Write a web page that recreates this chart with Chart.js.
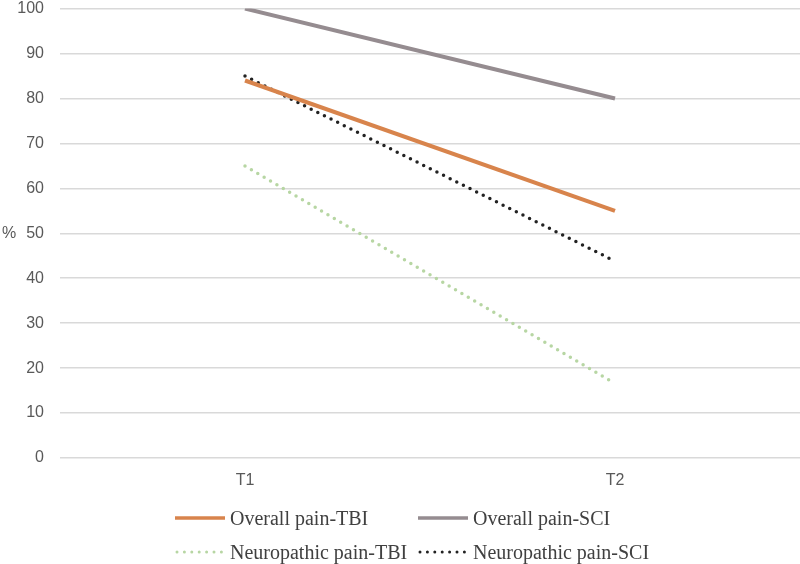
<!DOCTYPE html>
<html>
<head>
<meta charset="utf-8">
<script src="https://cdn.jsdelivr.net/npm/chart.js@4/dist/chart.umd.min.js"></script>
<style>
  html, body { margin: 0; padding: 0; background: #fff; overflow: hidden; }
  #wrap { position: relative; width: 800px; height: 564px; overflow: hidden; }
  canvas { position: absolute; left: 0; top: -17px; }
  .leg { position: absolute; display: flex; align-items: center; font-family: "Liberation Serif", "Times New Roman", serif; font-size: 20px; color: #404040; white-space: nowrap; line-height: 20px; }
  .leg svg { margin-right: 5px; }
</style>
</head>
<body>
<div id="wrap">
  <canvas id="c" width="800" height="581"></canvas>
</div>
<script>
const categories = ["T1", "T2"];
const overallTBI = [84, 55];
const overallSCI = [100, 80];
const neuroTBI = [65, 16.6];
const neuroSCI = [85, 43.8];
const seriesNames = ["Overall pain-TBI", "Overall pain-SCI", "Neuropathic pain-TBI", "Neuropathic pain-SCI"];
const yTicks = { min: 0, max: 100, step: 10 };

const colors = ["#D8844C", "#958C90", "#B7D6A3", "#222222"];
const dotted = [false, false, true, true];

const pctPlugin = {
  id: 'pct',
  afterDraw(chart) {
    const ctx = chart.ctx;
    const a = chart.chartArea;
    ctx.save();
    ctx.font = '16px "Liberation Sans", Arial, sans-serif';
    ctx.fillStyle = '#595959';
    ctx.textAlign = 'left';
    ctx.textBaseline = 'middle';
    ctx.fillText('%', 2, (a.top + a.bottom) / 2);
    ctx.restore();
  }
};

const allData = [overallTBI, overallSCI, neuroTBI, neuroSCI];
const datasets = allData.map((d, i) => ({
  label: seriesNames[i],
  data: d,
  borderColor: colors[i],
  backgroundColor: colors[i],
  borderWidth: dotted[i] ? 3.5 : 4,
  borderDash: dotted[i] ? [0, 7.4] : [],
  borderCapStyle: dotted[i] ? 'round' : 'butt',
  pointRadius: 0,
  fill: false,
  tension: 0
}));

const chart = new Chart(document.getElementById('c'), {
  type: 'line',
  data: { labels: categories, datasets },
  plugins: [pctPlugin],
  options: {
    responsive: false,
    animation: false,
    layout: { padding: { top: 0, right: 0, left: 0, bottom: 0 } },
    plugins: { legend: { display: false }, tooltip: { enabled: false } },
    scales: {
      x: {
        offset: true,
        grid: { display: false, drawTicks: false },
        border: { display: false },
        ticks: { color: '#595959', font: { family: '"Liberation Sans", Arial, sans-serif', size: 16 }, padding: 13 },
        afterFit(s) { s.height = 106; }
      },
      y: {
        min: yTicks.min, max: yTicks.max,
        grid: { color: '#d9d9d9', lineWidth: 1.5, drawTicks: false },
        border: { display: false },
        ticks: { stepSize: yTicks.step, color: '#595959', font: { family: '"Liberation Sans", Arial, sans-serif', size: 16 }, padding: 16 },
        afterFit(s) { s.width = 60; }
      }
    }
  }
});

// HTML legend
const legPos = [[175, 518], [418, 518], [175, 552], [418, 552]];
const wrap = document.getElementById('wrap');
seriesNames.forEach((name, i) => {
  const div = document.createElement('div');
  div.className = 'leg';
  div.style.left = legPos[i][0] + 'px';
  div.style.top = (legPos[i][1] - 10) + 'px';
  const w = 50;
  const dash = dotted[i] ? 'stroke-dasharray="0 7.4" stroke-linecap="round"' : '';
  const sw = dotted[i] ? 3 : 3.5;
  div.innerHTML = '<svg width="' + w + '" height="10"><line x1="' + (dotted[i] ? 2 : 0) + '" y1="5" x2="' + w + '" y2="5" stroke="' + colors[i] + '" stroke-width="' + sw + '" ' + dash + '/></svg><span>' + name + '</span>';
  wrap.appendChild(div);
});
</script>
</body>
</html>
